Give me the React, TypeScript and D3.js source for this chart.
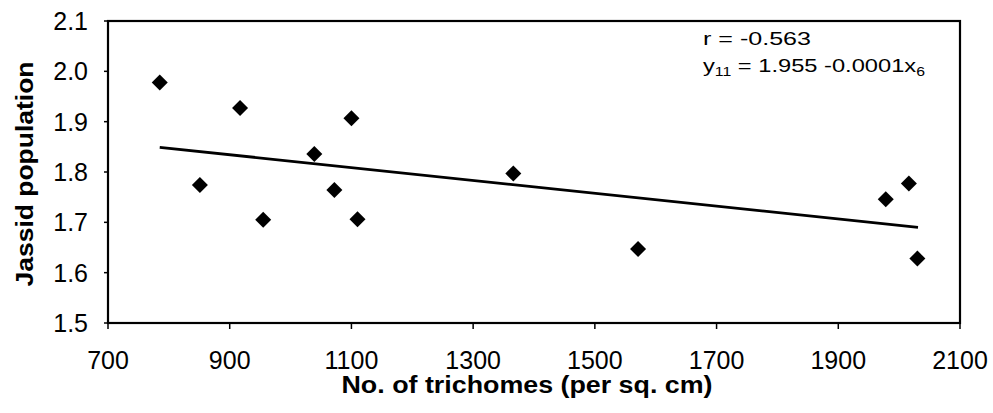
import React from "react";
import * as d3 from "d3";

const trichomes = [785, 851, 917, 955, 1039, 1072, 1100, 1110, 1366, 1571, 1978, 2016, 2030];
const jassid = [1.978, 1.774, 1.927, 1.705, 1.836, 1.764, 1.907, 1.706, 1.797, 1.647, 1.746, 1.777, 1.628];
const trendX = [785, 2031];
const trendY = [1.849, 1.69];
const xTicks = [700, 900, 1100, 1300, 1500, 1700, 1900, 2100];
const yTicks = [1.5, 1.6, 1.7, 1.8, 1.9, 2.0, 2.1];

const W = 993;
const H = 413;
const M = { left: 108, right: 960, top: 21, bottom: 323 };
const FONT = "'Liberation Sans', Arial, Helvetica, sans-serif";

export default function App() {
  const x = d3.scaleLinear().domain([700, 2100]).range([M.left, M.right]);
  const y = d3.scaleLinear().domain([1.5, 2.1]).range([M.bottom, M.top]);
  const line = d3
    .line<number>()
    .x((d) => x(d))
    .y((_, i) => y(trendY[i]));
  const r = 8;
  return (
    <svg
      width={W}
      height={H}
      style={{ position: "absolute", left: 0, top: 0, background: "#fff" }}
      fontFamily={FONT}
    >
      <rect x={0} y={0} width={W} height={H} fill="#fff" />
      {yTicks.map((t) => (
        <g key={"y" + t}>
          <line x1={M.left - 4} x2={M.left} y1={y(t)} y2={y(t)} stroke="#000" strokeWidth={1.5} />
          <text x={88} y={y(t)} dy="0.36em" textAnchor="end" fontSize={25} fill="#000">
            {t.toFixed(1)}
          </text>
        </g>
      ))}
      {xTicks.map((t) => (
        <g key={"x" + t}>
          <line x1={x(t)} x2={x(t)} y1={M.bottom} y2={M.bottom + 6} stroke="#000" strokeWidth={1.5} />
          <text x={x(t)} y={369} textAnchor="middle" fontSize={25} fill="#000">
            {t}
          </text>
        </g>
      ))}
      <rect
        x={M.left}
        y={M.top}
        width={M.right - M.left}
        height={M.bottom - M.top}
        fill="none"
        stroke="#000"
        strokeWidth={2.2}
      />
      <path d={line(trendX) || ""} fill="none" stroke="#000" strokeWidth={2.8} />
      {trichomes.map((v, i) => {
        const cx = x(v);
        const cy = y(jassid[i]);
        return (
          <path
            key={"p" + i}
            d={`M${cx},${cy - r}L${cx + r},${cy}L${cx},${cy + r}L${cx - r},${cy}Z`}
            fill="#000"
          />
        );
      })}
      <text x={703} y={45} fontSize={18} fill="#000" textLength={108} lengthAdjust="spacingAndGlyphs">
        r = -0.563
      </text>
      <text x={703} y={72} fontSize={18} fill="#000" textLength={222} lengthAdjust="spacingAndGlyphs">
        <tspan>y</tspan>
        <tspan fontSize={12} dy={4}>11</tspan>
        <tspan dy={-4}> = 1.955 -0.0001x</tspan>
        <tspan fontSize={12} dy={4}>6</tspan>
      </text>
      <text
        x={527}
        y={393}
        textAnchor="middle"
        fontSize={23}
        fontWeight="bold"
        fill="#000"
        textLength={371}
        lengthAdjust="spacingAndGlyphs"
      >
        No. of trichomes (per sq. cm)
      </text>
      <text
        transform={`translate(33,174) rotate(-90)`}
        textAnchor="middle"
        fontSize={24}
        fontWeight="bold"
        fill="#000"
        textLength={225}
        lengthAdjust="spacingAndGlyphs"
      >
        Jassid population
      </text>
    </svg>
  );
}
